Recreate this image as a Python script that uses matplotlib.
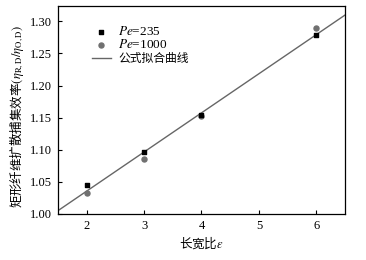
import matplotlib
matplotlib.use("Agg")
import matplotlib.pyplot as plt
import numpy as np

x = [2, 3, 4, 6]
pe235 = [1.045, 1.097, 1.154, 1.279]
pe1000 = [1.033, 1.086, 1.153, 1.289]
fit_x = [1.5, 6.5]
fit_y = [1.005, 1.310]
xticks = [2, 3, 4, 5, 6]
yticks = [1.00, 1.05, 1.10, 1.15, 1.20, 1.25, 1.30]

serif = ['Liberation Serif', 'DejaVu Serif']
cjk = ['Noto Sans CJK SC', 'DejaVu Sans']
plt.rcParams['mathtext.fontset'] = 'stix'

fig = plt.figure(figsize=(3.66, 2.60), dpi=100)
ax = fig.add_axes([0.158, 0.177, 0.785, 0.80])

ax.plot(fit_x, fit_y, color='#666666', lw=1.0, label='公式拟合曲线', zorder=1)
ax.scatter(x, pe235, marker='s', s=12, color='black', label='$Pe$=235', zorder=3)
ax.scatter(x, pe1000, marker='o', s=13, color='#707070', label='$Pe$=1000', zorder=2)

ax.set_xlim(1.5, 6.5)
ax.set_ylim(1.0, 1.324)
ax.set_xticks(xticks)
ax.set_yticks(yticks)
ax.set_xticklabels([str(v) for v in xticks], fontfamily=serif, fontsize=9)
ax.set_yticklabels([f'{v:.2f}' for v in yticks], fontfamily=serif, fontsize=9)
ax.tick_params(direction='in', length=3, width=0.8, top=False, right=False, pad=4)
for s in ax.spines.values():
    s.set_linewidth(0.9)

ax.set_xlabel('长宽比$\\varepsilon$', fontfamily=cjk, fontsize=9, labelpad=2)
ax.set_ylabel('矩形纤维扩散捕集效率$(\\eta_{\\rm R,D}/\\eta_{\\rm O,D})$', fontfamily=cjk, fontsize=9)
ax.yaxis.set_label_coords(-0.11, 0.47)

h, l = ax.get_legend_handles_labels()
order = [1, 2, 0]
leg = ax.legend([h[i] for i in order], [l[i] for i in order], loc='upper left',
                bbox_to_anchor=(0.09, 0.95), frameon=False, prop={'family': cjk, 'size': 8.5},
                handlelength=1.6, handletextpad=0.6, labelspacing=0.05, borderpad=0.2)
for t in leg.get_texts()[:2]:
    t.set_fontfamily(serif)
    t.set_fontsize(9.5)

fig.savefig('out.png', dpi=100)
